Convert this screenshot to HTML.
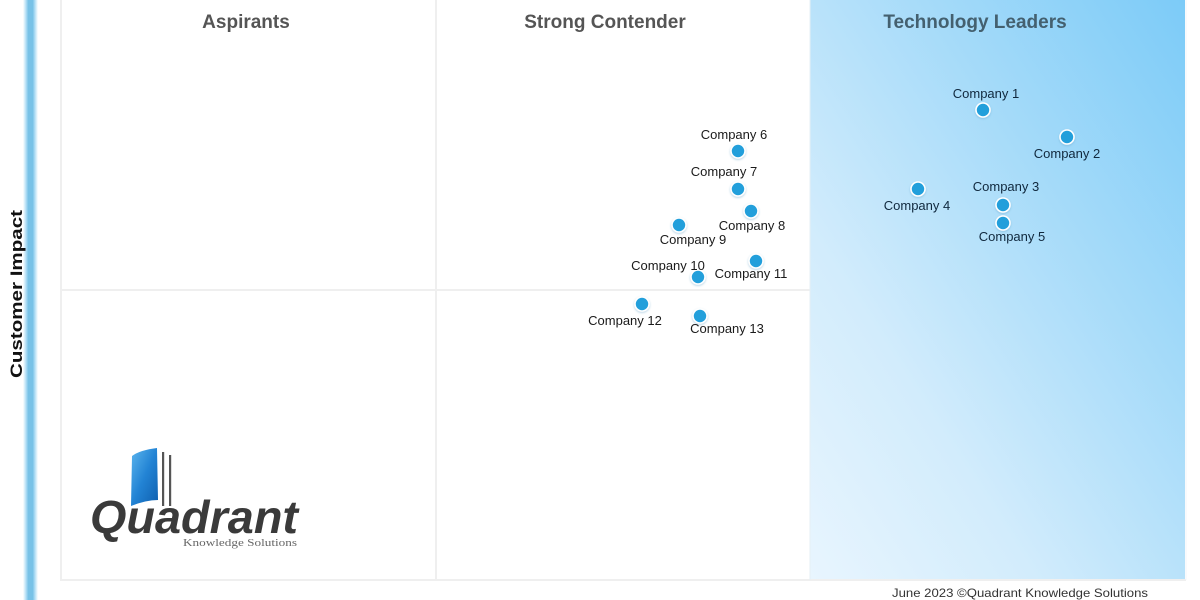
<!DOCTYPE html>
<html>
<head>
<meta charset="utf-8">
<style>
  html,body{margin:0;padding:0;background:#fff;}
  body{width:1200px;height:600px;overflow:hidden;position:relative;font-family:"Liberation Sans",Arial,sans-serif;}
  svg{position:absolute;left:0;top:0;}
</style>
</head>
<body>
<svg width="1200" height="600" viewBox="0 0 1200 600" xmlns="http://www.w3.org/2000/svg">
  <defs>
    <linearGradient id="leader" x1="1" y1="0" x2="0" y2="1">
      <stop offset="0" stop-color="#7ccbf8"/>
      <stop offset="0.35" stop-color="#a6dbf9"/>
      <stop offset="0.7" stop-color="#d2ecfc"/>
      <stop offset="1" stop-color="#e8f5fe"/>
    </linearGradient>
    <linearGradient id="book" x1="0" y1="0" x2="1" y2="1">
      <stop offset="0" stop-color="#5cb6ee"/>
      <stop offset="0.5" stop-color="#2283d4"/>
      <stop offset="1" stop-color="#0f5fae"/>
    </linearGradient>
    <linearGradient id="bar" x1="0" y1="0" x2="1" y2="0">
      <stop offset="0" stop-color="#ffffff"/>
      <stop offset="0.2" stop-color="#b3dff5"/>
      <stop offset="0.35" stop-color="#78c2e7"/>
      <stop offset="0.65" stop-color="#78c2e7"/>
      <stop offset="0.8" stop-color="#b3dff5"/>
      <stop offset="1" stop-color="#ffffff"/>
    </linearGradient>
    <filter id="glow" x="-50%" y="-50%" width="200%" height="200%">
      <feDropShadow dx="0" dy="1" stdDeviation="1" flood-color="#5a9fc8" flood-opacity="0.45"/>
    </filter>
  </defs>

  <!-- left axis bar -->
  <rect x="23" y="0" width="15" height="600" fill="url(#bar)"/>

  <!-- y label -->
  <text x="0" y="0" transform="translate(22,294) rotate(-90)" text-anchor="middle" font-size="17" font-weight="bold" fill="#111" textLength="168" lengthAdjust="spacingAndGlyphs">Customer Impact</text>

  <!-- leaders quadrant -->
  <rect x="810" y="0" width="375" height="579" fill="url(#leader)"/>

  <!-- frame lines -->
  <g stroke="#efefef" stroke-width="2" fill="none">
    <line x1="61" y1="0" x2="61" y2="581"/>
    <line x1="60" y1="580" x2="1186" y2="580"/>
    <line x1="436" y1="0" x2="436" y2="580"/>
    <line x1="61" y1="290" x2="810" y2="290"/>
  </g>
  <line x1="1186" y1="0" x2="1186" y2="580" stroke="#f3f6f8" stroke-width="1"/>
  <line x1="810" y1="0" x2="810" y2="580" stroke="#e6eff4" stroke-width="1"/>

  <!-- quadrant titles -->
  <text x="246" y="28" text-anchor="middle" font-size="19" font-weight="bold" fill="#555555">Aspirants</text>
  <text x="605" y="28" text-anchor="middle" font-size="19" font-weight="bold" fill="#555555">Strong Contender</text>
  <text x="975" y="28" text-anchor="middle" font-size="19" font-weight="bold" fill="#44606f">Technology Leaders</text>

  <!-- dots -->
  <g fill="#239fdb" stroke="#ffffff" stroke-width="1.6" filter="url(#glow)">
    <circle cx="983" cy="110" r="7"/>
    <circle cx="1067" cy="137" r="7"/>
    <circle cx="1003" cy="205" r="7"/>
    <circle cx="918" cy="189" r="7"/>
    <circle cx="1003" cy="223" r="7"/>
    <circle cx="738" cy="151" r="7"/>
    <circle cx="738" cy="189" r="7"/>
    <circle cx="751" cy="211" r="7"/>
    <circle cx="679" cy="225" r="7"/>
    <circle cx="698" cy="277" r="7"/>
    <circle cx="756" cy="261" r="7"/>
    <circle cx="642" cy="304" r="7"/>
    <circle cx="700" cy="316" r="7"/>
  </g>

  <!-- labels -->
  <g font-size="13" text-anchor="middle" fill="#10283d">
    <text x="986" y="98">Company 1</text>
    <text x="1067" y="158">Company 2</text>
    <text x="1006" y="191">Company 3</text>
    <text x="917" y="210">Company 4</text>
    <text x="1012" y="241">Company 5</text>
  </g>
  <g font-size="13" text-anchor="middle" fill="#1a1a1a">
    <text x="734" y="139">Company 6</text>
    <text x="724" y="176">Company 7</text>
    <text x="752" y="230">Company 8</text>
    <text x="693" y="244">Company 9</text>
    <text x="668" y="270">Company 10</text>
    <text x="751" y="278">Company 11</text>
    <text x="625" y="325">Company 12</text>
    <text x="727" y="333">Company 13</text>
  </g>

  <!-- logo -->
  <g>
    <path d="M132 456 Q140 450 157 448 L158 500 Q146 500 131 506 Z" fill="url(#book)"/>
    <rect x="162" y="452" width="2.2" height="54" fill="#555"/>
    <rect x="169" y="455" width="2.2" height="51" fill="#555"/>
    <text x="90" y="533" font-size="46" font-weight="bold" font-style="italic" fill="#3a3a3a" textLength="208" lengthAdjust="spacingAndGlyphs">Quadrant</text>
    <text x="183" y="546" font-family="Liberation Serif, serif" font-size="10" fill="#666" textLength="114" lengthAdjust="spacingAndGlyphs">Knowledge Solutions</text>
  </g>

  <!-- footer -->
  <text x="892" y="597" font-size="12" fill="#333" textLength="256" lengthAdjust="spacingAndGlyphs">June 2023 ©Quadrant Knowledge Solutions</text>
</svg>
</body>
</html>
